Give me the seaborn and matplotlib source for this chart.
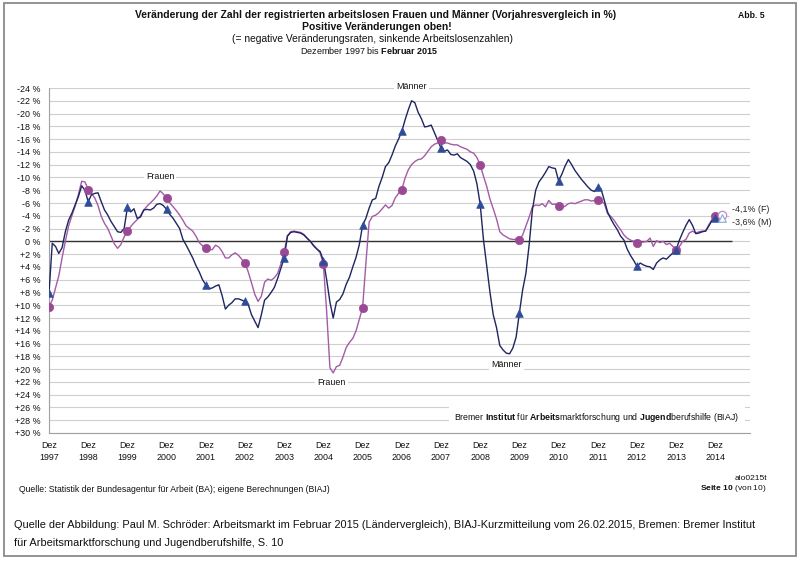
import matplotlib
matplotlib.use("Agg")
import matplotlib.pyplot as plt
from matplotlib.patches import Rectangle
import seaborn as sns
import numpy as np
import pandas as pd

#%% Daten: Veränderung gegenüber Vorjahresmonat in %, Dez 1997 bis Feb 2015 (monatlich)
jahre = list(range(1997, 2015))
maenner = [8.1,
    0.3, 0.8, 1.9, 1.0, -1.5, -3.3, -4.4, -5.7, -7.0, -8.7, -8.0, -6.2,           # 1998
    -7.3, -7.5, -7.6, -6.2, -4.9, -4.1, -3.1, -2.3, -1.5, -1.4, -2.0, -5.3,       # 1999
    -4.6, -5.1, -3.6, -3.8, -4.9, -5.0, -4.9, -5.2, -5.8, -5.9, -5.6, -5.0,       # 2000
    -4.2, -3.6, -2.8, -2.0, -0.3, 0.6, 1.6, 2.6, 3.8, 4.8, 6.0, 6.8,              # 2001
    7.4, 7.3, 7.0, 6.8, 8.5, 10.6, 10.0, 9.6, 9.0, 9.0, 9.2, 9.4,                 # 2002
    9.9, 11.5, 12.5, 13.5, 11.5, 9.2, 8.7, 8.0, 7.2, 5.8, 4.2, 2.6,               # 2003
    -0.8, -1.4, -1.5, -1.4, -1.3, -1.0, -0.5, 0.0, 0.7, 1.2, 1.6, 3.0,            # 2004
    6.0, 9.5, 12.0, 9.5, 9.1, 8.2, 6.7, 5.6, 4.0, 2.5, 0.5, -2.5,                 # 2005
    -3.6, -5.2, -6.5, -6.7, -8.6, -10.0, -11.7, -12.3, -13.5, -14.9, -16.0, -17.2,  # 2006
    -19.0, -20.6, -22.0, -21.7, -20.2, -19.2, -17.9, -18.0, -18.2, -17.0, -15.8, -14.6,  # 2007
    -14.1, -14.3, -13.6, -13.5, -13.7, -13.1, -12.8, -12.5, -12.0, -11.0, -9.0, -5.8,  # 2008
    -0.3, 3.9, 8.0, 11.5, 13.5, 16.3, 17.0, 17.5, 17.6, 16.7, 15.0, 11.2,         # 2009
    7.6, 5.0, 0.5, -5.0, -8.0, -9.3, -10.0, -10.8, -11.7, -11.5, -11.4, -9.5,     # 2010
    -10.5, -11.8, -12.8, -12.0, -11.1, -10.4, -9.7, -9.1, -8.5, -8.0, -7.8, -8.5, # 2011
    -8.2, -6.4, -4.6, -3.5, -2.6, -1.8, -0.8, -0.2, 1.2, 2.2, 3.0, 3.9,           # 2012
    3.4, 3.7, 3.9, 4.0, 4.4, 3.4, 2.9, 2.6, 2.8, 2.3, 1.8, 1.3,                   # 2013
    -0.2, -1.4, -2.5, -3.4, -2.5, -1.2, -1.3, -1.5, -1.6, -2.4, -3.3, -3.7,       # 2014
    -3.5, -3.6]                                                                   # 2015
frauen = [10.2,
    9.2, 7.3, 5.4, 2.6, 0.0, -2.4, -4.0, -5.5, -7.3, -9.4, -9.3, -8.1,            # 1998
    -7.5, -6.8, -5.6, -3.9, -2.8, -2.0, -0.8, 0.4, 1.1, 0.5, -0.7, -1.6,          # 1999
    -2.3, -2.9, -3.4, -4.0, -4.9, -5.5, -6.0, -6.5, -7.1, -7.9, -7.4, -6.8,       # 2000
    -6.0, -5.4, -4.8, -4.1, -3.3, -2.4, -2.0, -1.6, -0.8, 0.2, 0.7, 1.1,          # 2001
    1.3, 1.3, 0.6, 0.9, 1.6, 2.6, 2.6, 2.1, 1.8, 2.2, 2.8, 3.4,                   # 2002
    4.8, 6.5, 8.3, 9.4, 8.6, 6.4, 5.9, 6.1, 5.7, 5.0, 3.5, 1.6,                   # 2003
    -0.9, -1.5, -1.6, -1.5, -1.4, -1.1, -0.5, 0.0, 0.6, 1.2, 1.8, 3.6,            # 2004
    11.0, 19.8, 20.6, 19.6, 19.4, 18.1, 16.6, 15.8, 15.2, 14.0, 12.2, 10.4,       # 2005
    3.5, -3.0, -3.9, -4.1, -4.5, -5.1, -5.7, -5.2, -5.6, -6.8, -7.5, -8.1,        # 2006
    -9.9, -11.2, -12.0, -12.5, -12.8, -12.9, -13.4, -14.1, -14.8, -15.2, -15.4, -15.8,  # 2007
    -15.4, -15.4, -15.2, -15.1, -15.1, -14.8, -14.6, -14.4, -14.0, -13.8, -13.1, -12.0,  # 2008
    -10.2, -8.6, -6.6, -5.1, -3.5, -1.5, -1.0, -0.7, -0.4, -0.3, -0.3, -0.2,      # 2009
    -1.0, -2.4, -3.8, -5.4, -5.7, -5.6, -5.9, -5.4, -6.4, -5.8, -5.8, -5.6,       # 2010
    -5.3, -5.5, -5.9, -6.0, -5.9, -6.1, -6.3, -6.5, -6.5, -6.3, -6.4, -6.5,       # 2011
    -6.4, -5.9, -4.3, -3.9, -3.3, -2.5, -1.8, -1.0, -0.5, -0.2, 0.0, 0.2,         # 2012
    0.2, 0.1, 0.0, -0.5, 0.8, -0.1, 0.2, 0.0, 0.5, 0.3, 0.8, 1.4,                 # 2013
    0.8, 0.0, -0.3, -1.3, -1.6, -1.3, -1.5, -1.6, -1.6, -2.6, -3.4, -4.0,         # 2014
    -4.2, -4.1]                                                                   # 2015
y_ticks = list(range(-24, 31, 2))
y_labels = [f"{v:+d} %" if v != 0 else "0 %" for v in y_ticks]
x_labels = [f"Dez\n{j}" for j in jahre]
end_labels = ["-4,1% (F)", "-3,6% (M)"]

monat = np.arange(len(maenner))  # 0 = Dez 1997
df = pd.concat([
    pd.DataFrame({"monat": monat, "wert": frauen, "gruppe": "Frauen"}),
    pd.DataFrame({"monat": monat, "wert": maenner, "gruppe": "Männer"}),
])

#%% Stil
sns.set_theme(style="white")
plt.rcParams["font.family"] = ["Liberation Sans", "DejaVu Sans"]
# fette Wortteile innerhalb einer Zeile über mathtext
plt.rcParams["mathtext.fontset"] = "custom"
plt.rcParams["mathtext.rm"] = "Liberation Sans"
plt.rcParams["mathtext.bf"] = "Liberation Sans:bold"
plt.rcParams["mathtext.default"] = "regular"

W, H = 800, 562
fig = plt.figure(figsize=(W / 100, H / 100), dpi=100)
ax = fig.add_axes([49 / W, 1 - 433 / H, 701 / W, 345 / H])

farbe_m, farbe_f = "#1e2560", "#a45ba6"
marker_m, marker_f = "#2f4c98", "#9a4a95"

ax.yaxis.grid(True, color="#cfcfcf", lw=0.8)
ax.xaxis.grid(False)
ax.hlines(0, 0, 209, color="#333333", lw=1.0, zorder=2)

sns.lineplot(data=df, x="monat", y="wert", hue="gruppe",
             palette={"Frauen": farbe_f, "Männer": farbe_m},
             hue_order=["Frauen", "Männer"], lw=1.0, legend=False, ax=ax, zorder=3)

# Markierungen jeweils im Dezember
dez = df[(df["monat"] % 12 == 0)]
sns.scatterplot(data=dez[dez["gruppe"] == "Frauen"], x="monat", y="wert", marker="o",
                s=36, color=marker_f, edgecolor=marker_f, linewidth=0.5, ax=ax, zorder=4)
sns.scatterplot(data=dez[dez["gruppe"] == "Männer"], x="monat", y="wert", marker="^",
                s=30, color=marker_m, edgecolor=marker_m, linewidth=0.5, ax=ax, zorder=4)

# letzter Monat (Feb 2015) hohl
letzt = df[df["monat"] == monat.max()]
sns.scatterplot(data=letzt[letzt["gruppe"] == "Frauen"], x="monat", y="wert", marker="o",
                s=36, facecolor="white", edgecolor="#c58ac4", linewidth=0.9, ax=ax, zorder=5)
sns.scatterplot(data=letzt[letzt["gruppe"] == "Männer"], x="monat", y="wert", marker="^",
                s=30, facecolor="white", edgecolor="#8fb0d8", linewidth=0.9, ax=ax, zorder=5)

ax.set_xlim(0, 214.6)
ax.set_ylim(30, -24)
ax.set_yticks(y_ticks)
ax.set_yticklabels(y_labels)
ax.set_xticks(np.arange(0, 12 * len(jahre), 12))
ax.set_xticklabels(x_labels, linespacing=1.35)
ax.set_xlabel("")
ax.set_ylabel("")
ax.tick_params(axis="y", length=0, pad=6, labelsize=6.4, colors="#111111")
ax.tick_params(axis="x", length=3, width=0.6, color="#999999", pad=3, labelsize=6.4, labelcolor="#111111")
for s in ["top", "right"]:
    ax.spines[s].set_visible(False)
for s in ["left", "bottom"]:
    ax.spines[s].set_color("#a0a0a0")
    ax.spines[s].set_linewidth(0.8)

#%% Beschriftungen im Diagramm
box = dict(facecolor="white", edgecolor="none", pad=1.5)
lab = dict(fontsize=6.4, ha="center", va="center", bbox=box, zorder=6, color="#111111")
ax.text(34, -10.1, "Frauen", **lab)
ax.text(111, -24.2, "Männer", **lab)
ax.text(86.5, 22.1, "Frauen", **lab)
ax.text(140, 19.3, "Männer", **lab)
ax.text(209, -5.0, end_labels[0], fontsize=6.4, ha="left", va="center", bbox=box, zorder=6)
ax.text(209, -3.0, end_labels[1], fontsize=6.4, ha="left", va="center", bbox=box, zorder=6)
ax.text(0.578, 0.044,
        r"Bremer $\mathbf{Institut}$ für $\mathbf{Arbeits}$marktforschung und $\mathbf{Jugend}$berufshilfe (BIAJ)",
        transform=ax.transAxes, fontsize=6.3, ha="left", va="center", color="#111111",
        bbox=dict(facecolor="white", edgecolor="none", pad=4), zorder=6)


#%% Kopf- und Fußtexte
def ftext(x, y, s, **kw):
    kw.setdefault("va", "center")
    kw.setdefault("color", "#111111")
    fig.text(x / W, 1 - y / H, s, **kw)


ftext(376, 15, "Veränderung der Zahl der registrierten arbeitslosen Frauen und Männer (Vorjahresvergleich in %)",
      fontsize=7.5, fontweight="bold", ha="center")
ftext(377, 27.5, "Positive Veränderungen oben!", fontsize=7.5, fontweight="bold", ha="center")
ftext(373, 39, "(= negative Veränderungsraten, sinkende Arbeitslosenzahlen)", fontsize=7.4, ha="center")
ftext(369, 51, r"Dezember 1997 bis $\mathbf{Februar\ 2015}$", fontsize=6.5, ha="center")
ftext(765, 16, "Abb. 5", fontsize=6.2, fontweight="bold", ha="right")

ftext(767, 479, "alo0215t", fontsize=6.0, ha="right")
ftext(19, 489, "Quelle: Statistik der Bundesagentur für Arbeit (BA); eigene Berechnungen (BIAJ)",
      fontsize=6.25, ha="left")
ftext(767, 489, r"$\mathbf{Seite\ 10}$ (von 10)", fontsize=6.0, ha="right")

ftext(14, 525, "Quelle der Abbildung: Paul M. Schröder: Arbeitsmarkt im Februar 2015 (Ländervergleich), "
      "BIAJ-Kurzmitteilung vom 26.02.2015, Bremen: Bremer Institut", fontsize=7.9, ha="left")
ftext(14, 543, "für Arbeitsmarktforschung und Jugendberufshilfe, S. 10", fontsize=7.9, ha="left")

# Rahmen um die gesamte Abbildung
fig.patches.append(Rectangle((4 / W, 1 - 556 / H), 792 / W, 553 / H, transform=fig.transFigure,
                             fill=False, edgecolor="#8a8a8a", lw=1.3))

fig.savefig("out.png", dpi=100)
